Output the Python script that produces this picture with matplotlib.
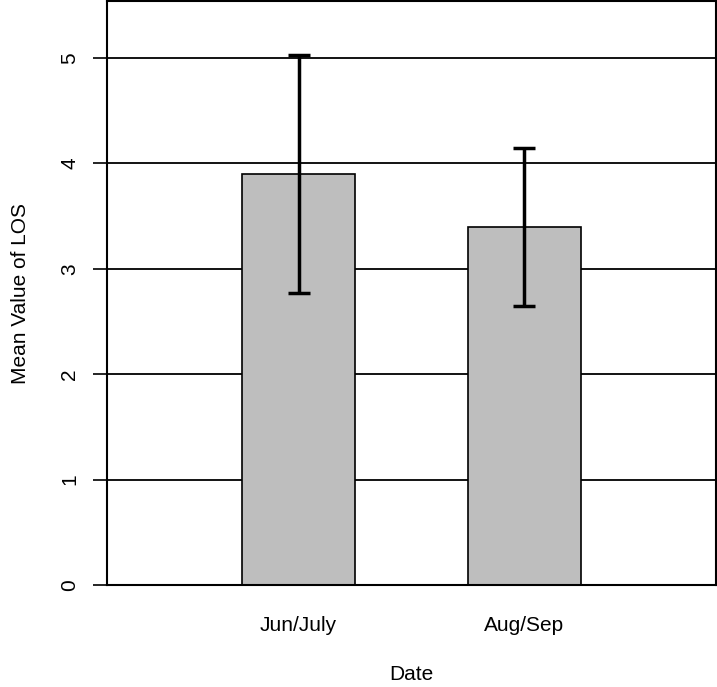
import matplotlib
matplotlib.use("Agg")
import matplotlib.pyplot as plt

plt.rcParams['font.family'] = ['Liberation Sans', 'DejaVu Sans']

# données
dates = ["Jun/July", "Aug/Sep"]
mean_los = [3.90, 3.40]
err_low = [2.77, 2.65]
err_high = [5.03, 4.15]
y_ticks = [0, 1, 2, 3, 4, 5]

fig = plt.figure(figsize=(7.17, 6.87), dpi=100)
ax = fig.add_axes([107 / 717, 1 - 585 / 687, 609 / 717, 584 / 687])

pos = [0, 2]

# grille horizontale derrière les barres
for t in y_ticks[1:]:
    ax.axhline(t, color="black", lw=1.3, zorder=0)

ax.bar(pos, mean_los, width=1.0, color="#bebebe", edgecolor="black", lw=1.2, zorder=2)

yerr = [[m - lo for m, lo in zip(mean_los, err_low)],
        [hi - m for m, hi in zip(mean_los, err_high)]]
ax.errorbar(pos, mean_los, yerr=yerr, fmt="none", ecolor="black",
            elinewidth=2.5, capsize=8, capthick=2.5, zorder=3)

ax.set_xlim(-1.695, 3.695)
ax.set_ylim(0, 5.54)
ax.set_yticks(y_ticks)
ax.set_yticklabels([str(t) for t in y_ticks], rotation=90, va="center")
ax.set_xticks(pos)
ax.set_xticklabels(dates)
ax.tick_params(axis="x", length=0, pad=22, labelsize=15)
ax.tick_params(axis="y", length=10, width=1.2, pad=10, labelsize=15)

for s in ax.spines.values():
    s.set_linewidth(1.5)

ax.set_xlabel("Date", fontsize=15, labelpad=22)
ax.set_ylabel("Mean Value of LOS", fontsize=15, labelpad=22)

fig.savefig("out.png", dpi=100)
